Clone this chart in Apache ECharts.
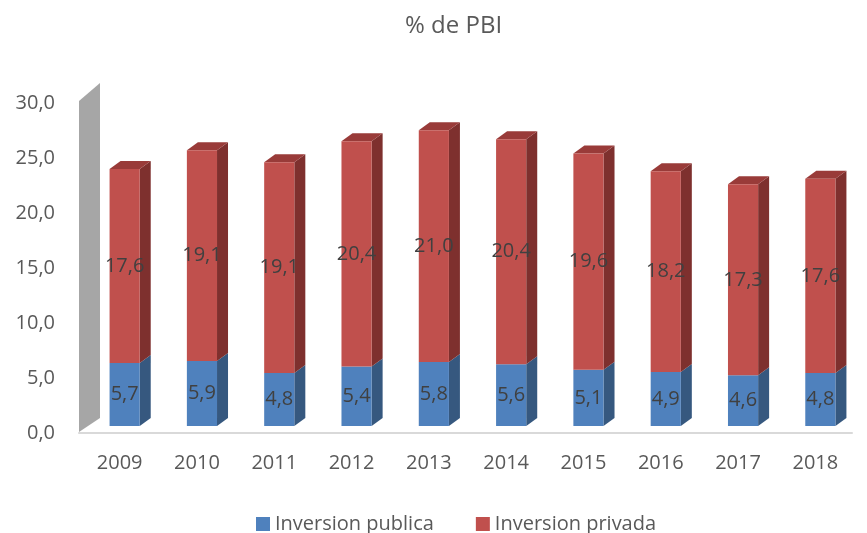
<!DOCTYPE html>
<html>
<head>
<meta charset="utf-8">
<style>
  html, body { margin: 0; padding: 0; background: #fff; }
  #chart { width: 867px; height: 533px; }
</style>
<script src="https://cdn.jsdelivr.net/npm/echarts@6/dist/echarts.min.js"></script>
</head>
<body>
<div id="chart"></div>
<script>
// datos
var years = ['2009', '2010', '2011', '2012', '2013', '2014', '2015', '2016', '2017', '2018']
var publica = [5.7, 5.9, 4.8, 5.4, 5.8, 5.6, 5.1, 4.9, 4.6, 4.8]
var privada = [17.6, 19.1, 19.1, 20.4, 21.0, 20.4, 19.6, 18.2, 17.3, 17.6]
var yTicks = [0, 5, 10, 15, 20, 25, 30]

var FONT = 'Open Sans'
var DX = 11
var DY = -8
var BAR_RATIO = 0.39

function comma(v) {
  return Number(v).toFixed(1).replace('.', ',')
}

var depthData = years.map(function(y, i) {
  return [i, publica[i], privada[i]]
})

function renderDepth(params, api) {
  var i = api.value(0)
  var pub = api.value(1)
  var priv = api.value(2)
  var half = api.size([1, 0])[0] * BAR_RATIO / 2
  var p0 = api.coord([i, 0])
  var p1 = api.coord([i, pub])
  var p2 = api.coord([i, pub + priv])
  var xl = p0[0] - half
  var xr = p0[0] + half
  var children = []

  if (params.dataIndex === 0) {
    // pared gris
    var cs = params.coordSys
    var top = api.coord([0, yTicks[yTicks.length - 1]])[1]
    var bot = p0[1]
    var wl = cs.x - 7
    children.push({
      type: 'polygon',
      shape: { points: [[wl, bot + 6], [wl, top + 6], [wl + 21, top - 12], [wl + 21, bot - 8]] },
      style: { fill: '#a6a6a6' },
      z2: 0
    })
  }
  // lado azul
  children.push({
    type: 'polygon',
    shape: { points: [[xr, p0[1]], [xr + DX, p0[1] + DY], [xr + DX, p1[1] + DY], [xr, p1[1]]] },
    style: { fill: '#36587f' }
  })
  // lado rojo
  children.push({
    type: 'polygon',
    shape: { points: [[xr, p1[1]], [xr + DX, p1[1] + DY], [xr + DX, p2[1] + DY], [xr, p2[1]]] },
    style: { fill: '#7e302e' }
  })
  // tapa
  children.push({
    type: 'polygon',
    shape: { points: [[xl, p2[1]], [xl + DX, p2[1] + DY], [xr + DX, p2[1] + DY], [xr, p2[1]]] },
    style: { fill: '#993b39' }
  })
  return { type: 'group', children: children }
}

var chart = echarts.init(document.getElementById('chart'))
chart.setOption({
  backgroundColor: '#fff',
  animation: false,
  textStyle: { fontFamily: FONT },
  title: {
    text: '% de PBI',
    left: 400,
    top: 9,
    textStyle: { fontFamily: FONT, fontSize: 24, fontWeight: 'normal', color: '#595959' }
  },
  legend: {
    data: ['Inversion publica', 'Inversion privada'],
    left: 251,
    top: 509,
    itemWidth: 14,
    itemHeight: 14,
    itemGap: 42,
    icon: 'rect',
    textStyle: { fontFamily: FONT, fontSize: 20, color: '#595959' }
  },
  grid: [
    { left: 86, right: 8, top: 95, bottom: 107 },
    { left: 79, right: 15, top: 103, bottom: 100 }
  ],
  xAxis: [
    {
      type: 'category',
      data: years,
      gridIndex: 0,
      axisLine: { show: false },
      axisTick: { show: false },
      axisLabel: { margin: 27, fontSize: 20, color: '#595959', fontFamily: FONT, padding: [0, 10, 0, 0] }
    },
    {
      type: 'category',
      data: years,
      gridIndex: 1,
      axisLine: { lineStyle: { color: '#d9d9d9', width: 2 } },
      axisTick: { show: false },
      axisLabel: { show: false }
    }
  ],
  yAxis: [
    {
      type: 'value',
      gridIndex: 0,
      min: 0,
      max: 30,
      interval: 5,
      axisLabel: { show: false },
      axisLine: { show: false },
      splitLine: { show: false }
    },
    {
      type: 'value',
      gridIndex: 1,
      min: 0,
      max: 30,
      interval: 5,
      axisLine: { show: false },
      splitLine: { show: false },
      axisLabel: { margin: 24, fontSize: 20, color: '#595959', fontFamily: FONT, formatter: comma }
    }
  ],
  series: [
    {
      name: 'Inversion publica',
      type: 'bar',
      stack: 'total',
      barWidth: (BAR_RATIO * 100) + '%',
      data: publica,
      itemStyle: { color: '#4f81bd' },
      label: {
        show: true,
        position: 'inside',
        fontSize: 20,
        color: '#404040',
        fontFamily: FONT,
        formatter: function(p) { return comma(p.value) }
      },
      z: 3
    },
    {
      name: 'Inversion privada',
      type: 'bar',
      stack: 'total',
      barWidth: (BAR_RATIO * 100) + '%',
      data: privada,
      itemStyle: { color: '#c0504d' },
      label: {
        show: true,
        position: 'inside',
        fontSize: 20,
        color: '#404040',
        fontFamily: FONT,
        formatter: function(p) { return comma(p.value) }
      },
      z: 3
    },
    {
      type: 'custom',
      renderItem: renderDepth,
      data: depthData,
      encode: { x: 0, y: [1, 2] },
      silent: true,
      z: 2
    }
  ]
})
</script>
</body>
</html>
